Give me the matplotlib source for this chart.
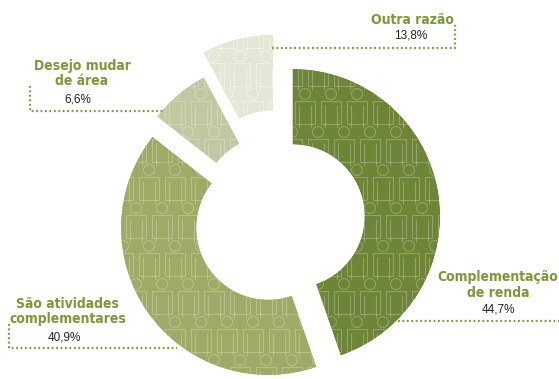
import numpy as np
import matplotlib.pyplot as plt
from matplotlib.patches import Wedge, Circle, Rectangle
from matplotlib.collections import PatchCollection, LineCollection
from matplotlib.colors import LinearSegmentedColormap

# dados
labels = ['Complementação\nde renda', 'São atividades\ncomplementares',
          'Desejo mudar\nde área', 'Outra razão']
values = [44.7, 40.9, 6.6, 13.8]
pct_text = ['44,7%', '40,9%', '6,6%', '13,8%']

# cores (gradiente esquerda -> direita) e deslocamento de cada fatia
grad = [('#6d8536', '#4b5e22'), ('#9dab66', '#96a45e'),
        ('#c1c8a1', '#b6bf92'), ('#e3e7d5', '#c9d0b1')]
explode = [11, 17, 14, 37]

W, H = 559, 379
fig = plt.figure(figsize=(W / 100, H / 100), dpi=100)
ax = fig.add_axes([0, 0, 1, 1])
ax.set_xlim(0, W)
ax.set_ylim(0, H)
ax.axis('off')

cx, cy = 282, H - 218
R, ring = 147, 75

green = '#7c9838'


def person_pattern(ax, clip, color, alpha):
    # bonequinhos (cabeça + corpo) em grade alternada
    heads, rects, segs = [], [], []
    for j, y in enumerate(np.arange(H + 20, -40, -38)):
        off = 13 if j % 2 else 0
        for x in np.arange(-20 + off, W + 30, 26):
            heads.append(Circle((x, y), 5.5))
            rects.append(Rectangle((x - 10, y - 30), 20, 23))
            segs.append([(x - 6, y - 11), (x - 6, y - 34)])
            segs.append([(x + 6, y - 11), (x + 6, y - 34)])
    pc = PatchCollection(heads + rects, facecolor='none', edgecolor=color,
                         linewidth=0.8, alpha=alpha)
    lc = LineCollection(segs, colors=color, linewidths=0.8, alpha=alpha)
    for art in (pc, lc):
        ax.add_collection(art)
        art.set_clip_path(clip)


start = 90.0
for i, v in enumerate(values):
    end = max(start - v * 3.6, 90.0 - 360.0)
    mid = np.radians((start + end) / 2)
    c = (cx + explode[i] * np.cos(mid), cy + explode[i] * np.sin(mid))
    w = Wedge(c, R, end, start, width=ring, facecolor=grad[i][0],
              edgecolor='none')
    ax.add_patch(w)
    cmap = LinearSegmentedColormap.from_list('g%d' % i, grad[i])
    im = ax.imshow(np.linspace(0, 1, 256)[None, :], cmap=cmap, aspect='auto',
                   extent=(c[0] - R, c[0] + R, c[1] - R, c[1] + R),
                   interpolation='bilinear')
    im.set_clip_path(w)
    person_pattern(ax, w, 'white', 0.25 if i < 3 else 0.4)
    start = end

ax.set_xlim(0, W)
ax.set_ylim(0, H)

# rótulos
lab_pos = [(498, 285), (68, 311.5), (82, 73.5), (412, 20)]
pct_pos = [(498, 309), (64, 337), (78, 99), (411, 36)]
for i in range(len(values)):
    ax.text(lab_pos[i][0], H - lab_pos[i][1], labels[i], ha='center',
            va='center', fontsize=10, fontweight='bold', color=green,
            family='DejaVu Sans', fontstretch='condensed', linespacing=1.1)
    ax.text(pct_pos[i][0], H - pct_pos[i][1], pct_text[i], ha='center',
            va='center', fontsize=8.5, color='#222222',
            family=['Liberation Sans', 'DejaVu Sans'])

# linhas pontilhadas de chamada
leaders = [
    [(398, 321), (559, 321)],
    [(9, 324), (9, 348), (177, 348)],
    [(30, 86), (30, 111), (163, 111)],
    [(272, 48), (455, 48), (455, 24)],
]
for pts in leaders:
    xs = [p[0] for p in pts]
    ys = [H - p[1] for p in pts]
    ax.plot(xs, ys, color=green, lw=1.6, linestyle=(0, (0.8, 1.2)),
            solid_capstyle='butt', dash_capstyle='butt')

fig.savefig('out.png', dpi=100)
